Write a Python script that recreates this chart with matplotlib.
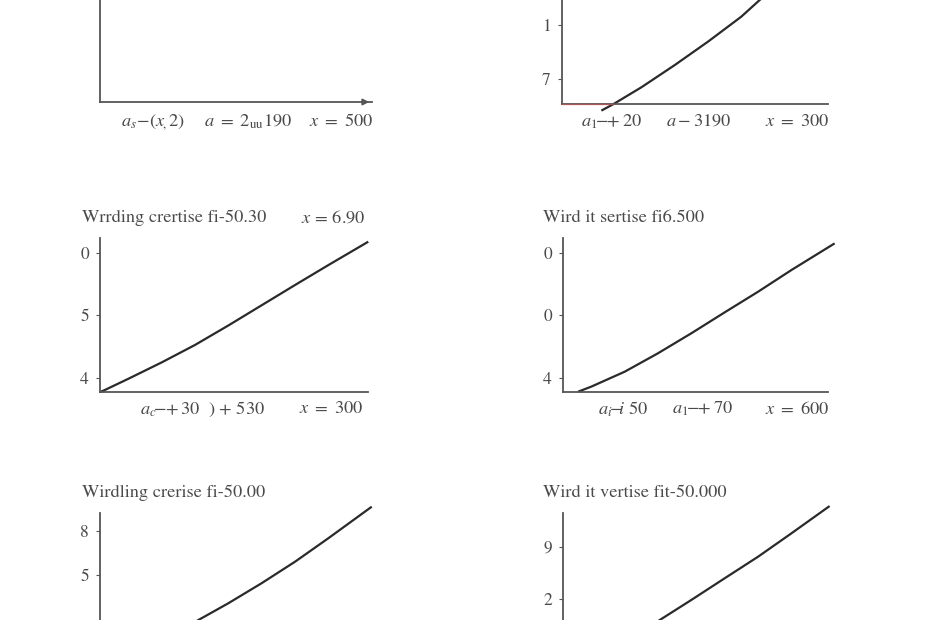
import matplotlib
matplotlib.use("Agg")
import matplotlib.pyplot as plt

plt.rcParams['font.family'] = ['STIXGeneral', 'DejaVu Serif']
plt.rcParams['mathtext.fontset'] = 'stix'

# ---------------- data ----------------
panel_titles = ["", "",
                "Wrrding crertise fi-50.30", "Wird it sertise fi6.500",
                "Wirdling crerise fi-50.00", "Wird it vertise fit-50.000"]
title_notes = ["", "", r"$x\,=\,6.90$", "", "", ""]
axis_notes = [
    [r"$a_s\!-\!(x_{\!,}2)$", r"$a\ =\ 2_{\rm uu}190$", r"$x\ =\ 500$"],
    [r"$a_1\!\!-\!\!\!+20$", r"$a - 3190$", r"$x\ =\ 300$"],
    [r"$a_c\!\!-\!\!\!+30$  ) + 530", r"$x\ =\ 300$"],
    [r"$a_i\!\!-\!\!\!i$ 50", r"$a_1\!\!-\!\!\!+70$", r"$x\ =\ 600$"],
    [],
    [],
]
ytick_values = [[], [51, 16], [90, 50, 9], [90, 50, 9], [88, 60], [78, 44]]
ytick_labels = [[], ["1", "7"], ["0", "5", "4"], ["0", "0", "4"], ["8", "5"], ["9", "2"]]

curve_x = [
    [],
    [14.8, 19.2, 29.8, 42.4, 54.9, 67.4, 74.3, 78.0],
    [0, 1.2, 10.6, 23.0, 35.4, 47.9, 60.3, 72.8, 85.2, 100.1],
    [5.7, 10.7, 23.3, 35.8, 48.4, 61.0, 73.6, 86.2, 102.5],
    [34.0, 36.7, 47.9, 60.3, 72.8, 85.2, 101.4],
    [34.0, 36.5, 48.4, 61.0, 73.6, 86.2, 100.6],
]
curve_y = [
    [],
    [-4.3, -0.2, 10.8, 25.3, 40.5, 56.7, 67.5, 73.0],
    [0, 0.8, 8.6, 19.2, 30.5, 43.2, 56.3, 69.5, 82.4, 97.6],
    [0.2, 3.5, 13.2, 25.1, 38.1, 51.7, 65.1, 79.2, 96.5],
    [27.3, 30.5, 41.4, 54.4, 68.4, 83.6, 104.1],
    [27.5, 30.5, 43.5, 57.6, 71.6, 86.8, 104.5],
]
red_base_x = [0, 19]
red_base_y = [0, 0]

# ---------------- layout (pixels) ----------------
W, H = 930, 620
boxes = [  # left, top, right, bottom (x-axis)
    (100, -52, 372, 102),
    (562, -50, 828, 104),
    (100, 238, 368, 392),
    (563, 238, 828, 392),
    (100, 513, 368, 667),
    (563, 513, 828, 667),
]
note_pos = [
    [(153, 122), (248, 122), (341, 122)],
    [(612, 122), (699, 122), (797, 122)],
    [(203, 409), (331, 409)],
    [(623, 409), (703, 409), (797, 409)],
    [], [],
]
title_pos = [None, None, (82, 218), (543, 218), (82, 493), (543, 493)]
note_title_pos = [None, None, (333, 218), None, None, None]

TXT = '#4a4a4a'
AX = '#555555'
LINE = '#2a2a2a'

fig = plt.figure(figsize=(W / 100, H / 100), dpi=100)

for i, (l, t, r, b) in enumerate(boxes):
    ax = fig.add_axes([l / W, 1 - b / H, (r - l) / W, (b - t) / H])
    ax.set_xlim(0, 100)
    ax.set_ylim(0, 100)
    ax.patch.set_alpha(0)
    for s in ('top', 'right'):
        ax.spines[s].set_visible(False)
    for s in ('left', 'bottom'):
        ax.spines[s].set_color(AX)
        ax.spines[s].set_linewidth(1.3)
    ax.set_xticks([])
    ax.set_yticks(ytick_values[i])
    ax.set_yticklabels(ytick_labels[i])
    ax.tick_params(axis='y', length=3, width=0.8, color=AX, labelcolor=TXT,
                   labelsize=12.5, pad=5)
    if curve_x[i]:
        ax.plot(curve_x[i], curve_y[i], color=LINE, lw=1.6, clip_on=False,
                solid_capstyle='butt', solid_joinstyle='round')
    if i == 0:
        ax.annotate('', xy=(100, 0), xytext=(96, 0),
                    arrowprops=dict(arrowstyle='-|>', color=AX, lw=1.3,
                                    mutation_scale=9), annotation_clip=False)
    if i == 1:
        ax.plot(red_base_x, red_base_y, color='#d9534f', lw=1.0, alpha=0.6,
                clip_on=False, zorder=3)

for i in range(6):
    for txt, (px, py) in zip(axis_notes[i], note_pos[i]):
        fig.text(px / W, 1 - py / H, txt, ha='center', va='center',
                 color=TXT, fontsize=13.2)
    if title_pos[i] is not None and panel_titles[i]:
        px, py = title_pos[i]
        fig.text(px / W, 1 - py / H, panel_titles[i], ha='left', va='center',
                 color=TXT, fontsize=13.2)
    if note_title_pos[i] is not None:
        px, py = note_title_pos[i]
        fig.text(px / W, 1 - py / H, title_notes[i], ha='center', va='center',
                 color=TXT, fontsize=13.2)

fig.savefig('out.png', dpi=100, facecolor='white')
